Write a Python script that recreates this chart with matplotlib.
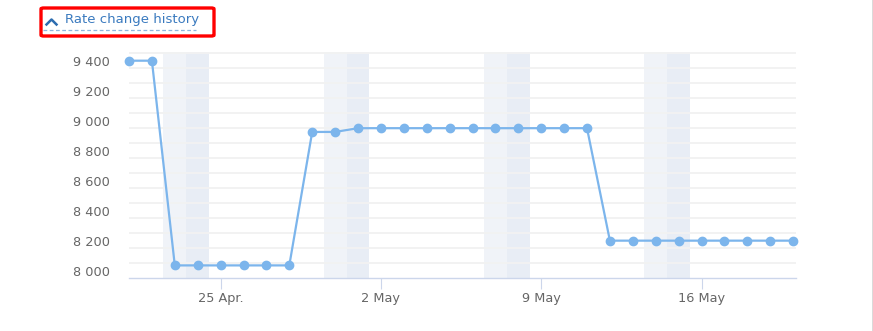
import datetime as dt
import matplotlib.pyplot as plt
import matplotlib.dates as mdates
from matplotlib.lines import Line2D
from matplotlib.patches import FancyBboxPatch

# data
dates = [dt.date(2022, 4, 21) + dt.timedelta(days=i) for i in range(30)]
rates = ([9400, 9400] + [8035] * 6 + [8925, 8925] + [8950] * 11 + [8200] * 9)
saturdays = [dt.date(2022, 4, 23), dt.date(2022, 4, 30), dt.date(2022, 5, 7), dt.date(2022, 5, 14)]
ytick_values = [8000, 8200, 8400, 8600, 8800, 9000, 9200, 9400]
grid_values = [8050 + 100 * i for i in range(15)]
xtick_dates = [dt.date(2022, 4, 25), dt.date(2022, 5, 2), dt.date(2022, 5, 9), dt.date(2022, 5, 16)]
xtick_labels = ['25 Apr.', '2 May', '9 May', '16 May']
title = 'Rate change history'

W, H = 873, 331
fig = plt.figure(figsize=(W / 100, H / 100), dpi=100)


def px(x, y):
    # pixel (from top-left) -> figure fraction
    return x / W, 1 - y / H


left, top = px(129, 52)
right, bottom = px(796, 278)
ax = fig.add_axes([left, bottom, right - left, top - bottom])

x0 = mdates.date2num(dates[0])
ax.set_xlim(x0, x0 + (796 - 129) / 22.9)
ax.set_ylim(7951, 9458)

# weekend bands
for d in saturdays:
    s = mdates.date2num(d)
    ax.axvspan(s - 0.5, s + 0.5, color='#f0f3f8', lw=0, zorder=0)
    ax.axvspan(s + 0.5, s + 1.5, color='#e8edf5', lw=0, zorder=0)

for g in grid_values:
    ax.axhline(g, color='#f2f2f2', lw=1.4, zorder=1)

ax.plot([mdates.date2num(d) for d in dates], rates, color='#7cb5ec', lw=1.6,
        marker='o', markersize=6, zorder=3, clip_on=False)

ax.set_yticks(ytick_values)
ax.set_yticklabels(['{:,}'.format(v).replace(',', ' ') for v in ytick_values])
ax.set_xticks([mdates.date2num(d) for d in xtick_dates])
ax.set_xticklabels(xtick_labels)

ax.tick_params(axis='y', length=0, pad=13.5, labelsize=9.3, labelcolor='#666666')
ax.tick_params(axis='x', length=7.9, width=0.8, color='#ccd6eb', pad=2.5,
               labelsize=9.3, labelcolor='#666666')
for side in ['top', 'right', 'left']:
    ax.spines[side].set_visible(False)
ax.spines['bottom'].set_color('#ccd6eb')
ax.spines['bottom'].set_linewidth(1)
ax.spines['bottom'].set_zorder(2)

# header link
tx, ty = px(65, 20)
fig.text(tx, ty, title, fontsize=9.5, color='#3a7abf', va='center', ha='left')
cx = [46.5, 51.5, 56.5]
cy = [24.5, 19.5, 24.5]
fig.add_artist(Line2D([px(x, 0)[0] for x in cx], [px(0, y)[1] for y in cy],
                      color='#2d6db0', lw=1.8, transform=fig.transFigure))
ux0, uy = px(43, 29.5)
ux1, _ = px(196, 29.5)
fig.add_artist(Line2D([ux0, ux1], [uy, uy], color='#8fb6df', lw=0.9, ls=(0, (3, 2)),
                      transform=fig.transFigure))
bx0, by1 = px(41, 8)
bx1, by0 = px(214, 36)
fig.add_artist(FancyBboxPatch((bx0, by0), bx1 - bx0, by1 - by0,
                              boxstyle='round,pad=0,rounding_size=0.003',
                              fill=False, edgecolor='#ff0000', lw=2.4,
                              transform=fig.transFigure))

# right border line
rx, _ = px(872.5, 0)
fig.add_artist(Line2D([rx, rx], [0, 1], color='#4a4444', lw=1, transform=fig.transFigure))

fig.savefig('out.png', dpi=100)
